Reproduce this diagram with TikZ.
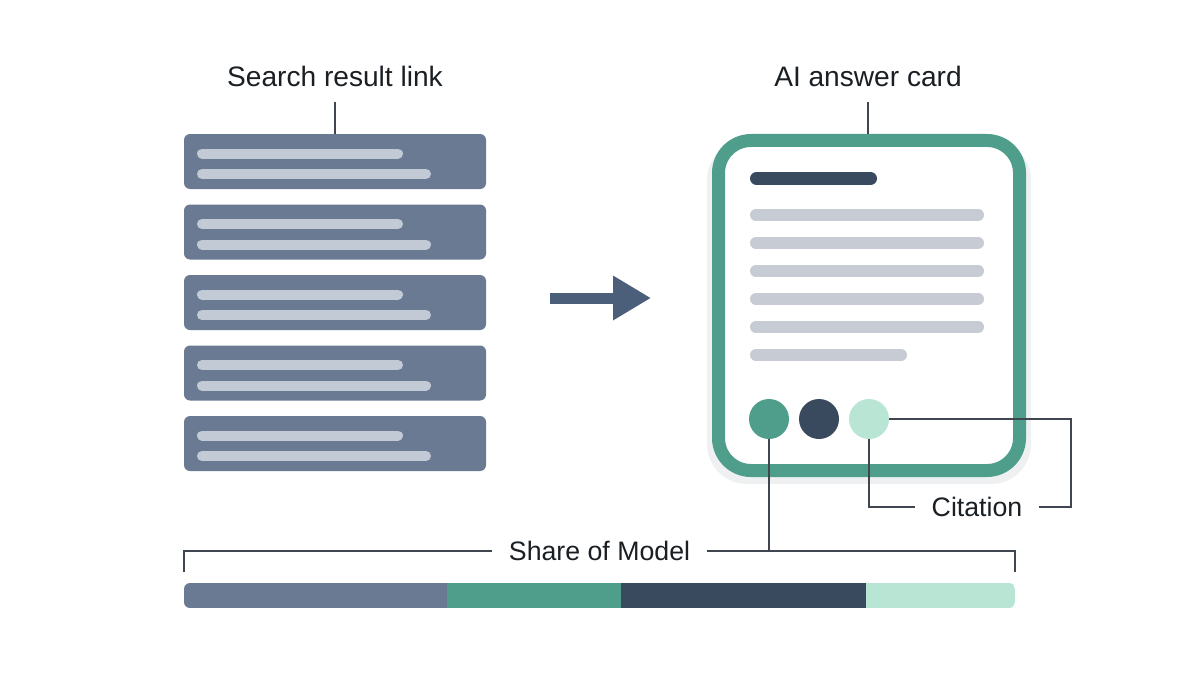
\documentclass[tikz,border=0pt]{standalone}
\usepackage{fontspec}
\setsansfont{Liberation Sans}
\usetikzlibrary{positioning,arrows.meta}
\definecolor{ink}{HTML}{1A1F24}
\definecolor{wire}{HTML}{40464F}
\definecolor{slatebox}{HTML}{6B7A93}
\definecolor{slateline}{HTML}{C2CAD6}
\definecolor{arrowink}{HTML}{4B5F7A}
\definecolor{sage}{HTML}{4F9E8B}
\definecolor{navy}{HTML}{3A4A5E}
\definecolor{mint}{HTML}{B9E6D4}
\definecolor{fog}{HTML}{C7CBD3}
\definecolor{haze}{HTML}{EEF0F2}
\tikzset{
  font=\sffamily,
  %% labels
  lbl/.style      = {font=\sffamily\fontsize{16}{19}\selectfont, text=ink,
                     inner ysep=3mm, inner xsep=3.3mm},
  note/.style     = {font=\sffamily\fontsize{15.2}{18}\selectfont, text=ink,
                     inner ysep=1mm, inner xsep=3.3mm},
  %% nodes
  result/.style   = {rounded corners=1.2mm, fill=slatebox, minimum width=60.4mm,
                     minimum height=11mm, inner sep=0pt, outer sep=0pt,
                     path picture={
                       \draw[slateline, line width=2mm, line cap=round]
                         ([xshift=3.6mm, yshift=1.6mm]path picture bounding box.west) -- ++(39.2mm,0);
                       \draw[slateline, line width=2mm, line cap=round]
                         ([xshift=3.6mm, yshift=-2.5mm]path picture bounding box.west) -- ++(44.8mm,0);
                     }},
  card/.style     = {draw=sage, line width=2.6mm, fill=white, rounded corners=6.5mm,
                     minimum width=60.2mm, minimum height=66mm},
  dot/.style      = {circle, minimum size=8mm, inner sep=0pt, outer sep=0pt},
  sharebar/.style = {rounded corners=1.2mm, minimum width=166.2mm, minimum height=5mm,
                     inner sep=0pt, outer sep=0pt,
                     path picture={
                       \fill[slatebox, sharp corners] (path picture bounding box.south west)
                         rectangle ([xshift=52.6mm]path picture bounding box.north west);
                       \fill[sage, sharp corners] ([xshift=52.6mm]path picture bounding box.south west)
                         rectangle ([xshift=87.4mm]path picture bounding box.north west);
                       \fill[navy, sharp corners] ([xshift=87.4mm]path picture bounding box.south west)
                         rectangle ([xshift=136.4mm]path picture bounding box.north west);
                       \fill[mint, sharp corners] ([xshift=136.4mm]path picture bounding box.south west)
                         rectangle (path picture bounding box.north east);
                     }},
  %% lines
  link/.style     = {draw=wire, line width=0.75pt},
  fat/.style      = {-{Triangle[length=7.6mm, width=8.4mm]}, draw=arrowink, fill=arrowink,
                     line width=2.2mm},
  txtline/.style  = {fog, line width=2.4mm, line cap=round},
}

\begin{document}
\begin{tikzpicture}[x=0.2mm, y=-0.2mm]
\fill[white] (0,0) rectangle (1200,675);
\useasboundingbox (0,0) rectangle (1200,675);

%% ---- search results (left) ----
\node[result] (r1) at (335,161.5) {};
\node[result] (r2) at (335,232)   {};
\node[result] (r3) at (335,302.5) {};
\node[result] (r4) at (335,373)   {};
\node[result] (r5) at (335,443.5) {};

\node[lbl] (srl) at (335,76) {Search result link};
\draw[link] (srl.south) -- (r1.north);

%% ---- arrow ----
\coordinate (arrtail) at (550,298);
\coordinate (arrhead) at (651,298);
\draw[fat] (arrtail) -- (arrhead);

%% ---- answer card (right) ----
%% soft shadow under the card
\fill[haze, rounded corners=8mm] (707,140) rectangle (1031,484);
\node[card] (card) at (869,305.5) {};
\node[lbl] (aac) at (868,76) {AI answer card};
\draw[link] (aac.south) -- (aac.south |- card.north);

\draw[navy, line width=2.6mm, line cap=round] (756.5,178.5) -- (870.5,178.5);
\draw[txtline] (756,215) -- (978,215);
\draw[txtline] (756,243) -- (978,243);
\draw[txtline] (756,271) -- (978,271);
\draw[txtline] (756,299) -- (978,299);
\draw[txtline] (756,327) -- (978,327);
\draw[txtline] (756,355) -- (901,355);

\node[dot, fill=sage] (c1) at (769,419) {};
\node[dot, fill=navy] (c2) at (819,419) {};
\node[dot, fill=mint] (c3) at (869,419) {};

%% citation callout
\node[note] (cite) at (977,507) {Citation};
\draw[link] (c3.south) |- (cite.west);
\draw[link] (cite.east) -- ++(32,0) |- (c3.east);

%% ---- share of model ----
\node[sharebar] (bar) at (599.5,595.5) {};
\node[note] (som) at (599.5,551) {Share of Model};
\draw[link] ([yshift=2.2mm]bar.north west) |- (som.west);
\draw[link] (som.east) -| ([yshift=2.2mm]bar.north east);
\draw[link] (c1.south) -- (c1.south |- som.center);
\end{tikzpicture}
\end{document}
